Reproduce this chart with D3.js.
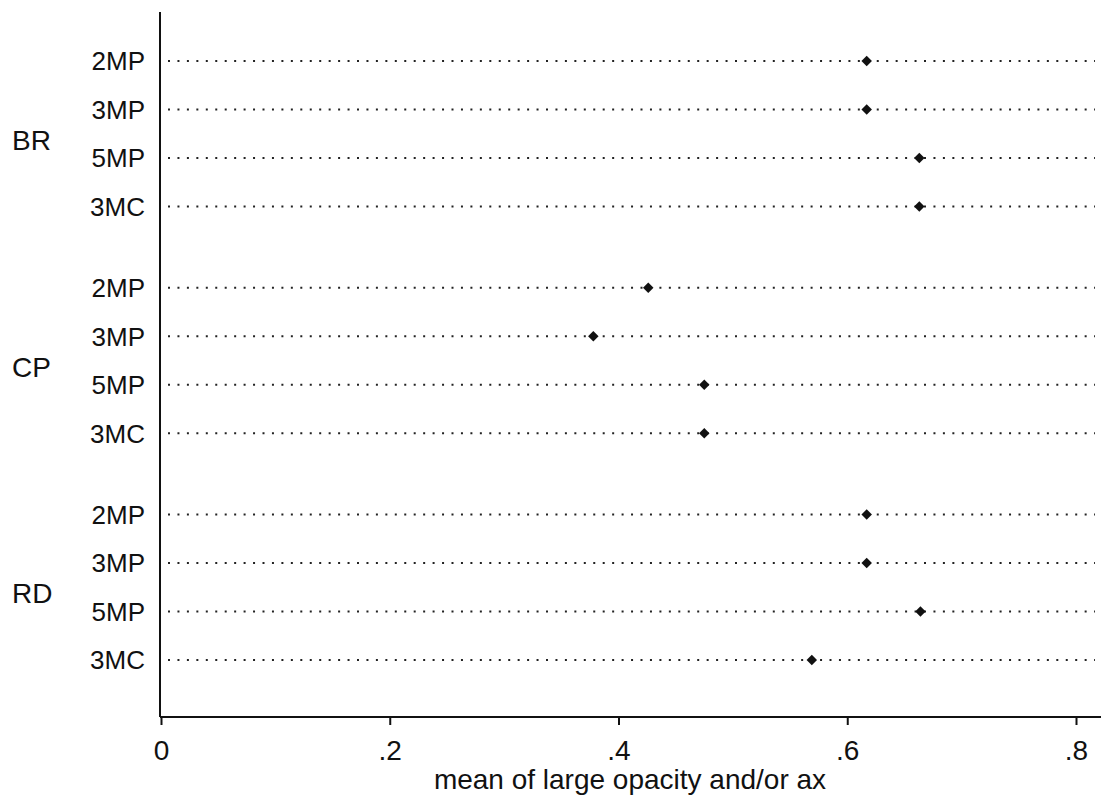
<!DOCTYPE html>
<html>
<head>
<meta charset="utf-8">
<script src="https://cdn.jsdelivr.net/npm/d3@7"></script>
<style>
  body { margin: 0; background: #fff; }
  text { font-family: "Liberation Sans", Arial, sans-serif; fill: #111; }
</style>
</head>
<body>
<div id="plot"></div>
<script>
// Data
var groups = ["BR", "CP", "RD"];
var items = ["2MP", "3MP", "5MP", "3MC"];
var valuesBR = [0.617, 0.617, 0.663, 0.663];
var valuesCP = [0.426, 0.378, 0.475, 0.475];
var valuesRD = [0.617, 0.617, 0.664, 0.569];
var xTicks = [0, 0.2, 0.4, 0.6, 0.8];
var xTitle = "mean of large opacity and/or ax";

var seriesByGroup = {BR: valuesBR, CP: valuesCP, RD: valuesRD};
var rows = [];
groups.forEach(function(g) {
    items.forEach(function(it, i) {
        rows.push({group: g, item: it, value: seriesByGroup[g][i]});
    });
});

// Dimensions
var W = 1105, H = 797;
var plot = {left: 160, top: 12, bottom: 717, right: 1101};

var svg = d3.select("#plot")
    .append("svg")
        .attr("width", W)
        .attr("height", H);

// X scale
var x = d3.scaleLinear()
    .domain([0, 0.8])
    .range([161, 1076]);

// Y scales: groups as bands, items as points inside each band
var yGroup = d3.scaleBand()
    .domain(groups)
    .range([61, 660])
    .paddingInner(0.358)
    .paddingOuter(0);

var yItem = d3.scalePoint()
    .domain(items)
    .range([0, yGroup.bandwidth()]);

function yPos(d) { return yGroup(d.group) + yItem(d.item); }

// Dotted guide lines
svg.append("g")
    .selectAll("line")
    .data(rows)
    .enter().append("line")
        .attr("x1", plot.left + 8)
        .attr("x2", plot.right - 6)
        .attr("y1", yPos)
        .attr("y2", yPos)
        .attr("stroke", "#222")
        .attr("stroke-width", 2)
        .attr("stroke-dasharray", "2,7.45");

// Markers
svg.append("g")
    .selectAll("path")
    .data(rows)
    .enter().append("path")
        .attr("d", d3.symbol().type(d3.symbolSquare).size(55))
        .attr("transform", function(d) {
            return "translate(" + x(d.value) + "," + yPos(d) + ") rotate(45)";
        })
        .attr("fill", "#111");

// Y axis line
svg.append("line")
    .attr("x1", plot.left).attr("x2", plot.left)
    .attr("y1", plot.top).attr("y2", plot.bottom)
    .attr("stroke", "#111").attr("stroke-width", 2);

// Item labels
svg.append("g")
    .selectAll("text")
    .data(rows)
    .enter().append("text")
        .attr("x", plot.left - 15)
        .attr("y", yPos)
        .attr("dy", "0.36em")
        .attr("text-anchor", "end")
        .style("font-size", "26px")
        .text(function(d) { return d.item; });

// Group labels
svg.append("g")
    .selectAll("text")
    .data(groups)
    .enter().append("text")
        .attr("x", 12)
        .attr("y", function(g) { return yGroup(g) + yGroup.bandwidth() / 2 + 6; })
        .attr("dy", "0.36em")
        .style("font-size", "28px")
        .text(function(g) { return g; });

// X axis
var xAxis = d3.axisBottom(x)
    .tickValues(xTicks)
    .tickSize(8)
    .tickPadding(15)
    .tickFormat(function(d) { return d === 0 ? "0" : d3.format(".1f")(d).replace(/^0/, ""); });

var gx = svg.append("g")
    .attr("transform", "translate(0," + plot.bottom + ")")
    .call(xAxis);
gx.select(".domain").remove();
gx.selectAll(".tick line").attr("stroke", "#111").attr("stroke-width", 2);
gx.selectAll(".tick text")
    .style("font-family", "'Liberation Sans', Arial, sans-serif")
    .style("font-size", "28px")
    .attr("fill", "#111");
gx.append("line")
    .attr("x1", plot.left).attr("x2", plot.right)
    .attr("y1", 0).attr("y2", 0)
    .attr("stroke", "#111").attr("stroke-width", 2);

// X title
svg.append("text")
    .attr("x", 630)
    .attr("y", 789)
    .attr("text-anchor", "middle")
    .style("font-size", "28px")
    .text(xTitle);
</script>
</body>
</html>
